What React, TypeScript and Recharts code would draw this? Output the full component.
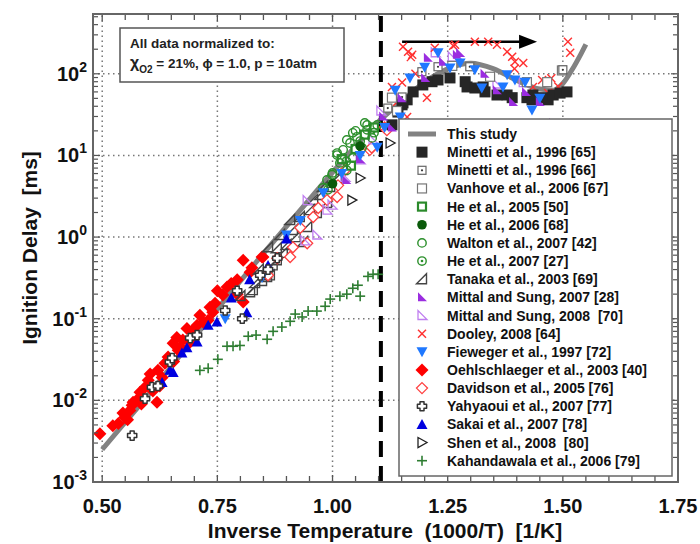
import React from 'react';
import { ComposedChart, Scatter, Line, XAxis, YAxis, ReferenceLine } from 'recharts';

// ---------- data ----------
const thisStudy: [number, number][] = [
  [0.5, 0.0025], [0.55, 0.0054], [0.6, 0.0117], [0.65, 0.026], [0.7, 0.059], [0.75, 0.132],
  [0.8, 0.29], [0.85, 0.63], [0.9, 1.35], [0.95, 2.9], [1.0, 6.2], [1.05, 13], [1.1, 26],
  [1.15, 46], [1.2, 79], [1.25, 115], [1.3, 135], [1.35, 115], [1.4, 83], [1.45, 65],
  [1.48, 63], [1.5, 76], [1.52, 112], [1.54, 178], [1.55, 229],
];
const minetti65: [number, number][] = [
  [1.129, 23.7], [1.142, 34], [1.151, 41.7], [1.153, 44], [1.162, 48], [1.175, 60], [1.196, 73],
  [1.216, 80], [1.229, 84], [1.255, 89], [1.288, 80], [1.292, 69], [1.309, 67], [1.327, 69],
  [1.331, 60], [1.357, 55], [1.379, 55], [1.39, 51], [1.422, 51], [1.433, 48], [1.435, 55],
  [1.457, 51], [1.468, 48], [1.479, 55], [1.494, 58], [1.509, 60],
];
const minetti66: [number, number][] = [[1.12, 38], [1.151, 52], [1.194, 106], [1.229, 122], [1.298, 122], [1.5, 112]];
const vanhove: [number, number][] = [[1.129, 51], [1.14, 35], [1.26, 125], [1.342, 92], [1.422, 79], [1.466, 79], [1.498, 110]];
const he2005: [number, number][] = [[1.02, 9], [1.04, 7.5], [1.05, 12], [1.07, 18], [1.09, 22]];
const he2006: [number, number][] = [[1.0, 4.5], [1.06, 13]];
const walton: [number, number][] = [
  [0.979, 4.0], [0.988, 5.0], [0.999, 5.8], [1.0, 6.1], [1.01, 10.1], [1.01, 10.7], [1.016, 8.1],
  [1.023, 11.7], [1.031, 6.6], [1.031, 15.5], [1.038, 14.2], [1.044, 9.3], [1.044, 18.9], [1.053, 16.9],
  [1.064, 12.4], [1.075, 20.6], [1.075, 23.6], [1.086, 16.4], [1.097, 23.6], [1.05, 20], [1.07, 25],
];
const he2007: [number, number][] = [[0.99, 3.8], [1.03, 8.5], [1.06, 15], [1.09, 19]];
const tanaka: [number, number][] = [
  [0.8, 0.19], [0.821, 0.211], [0.827, 0.224], [0.832, 0.273], [0.84, 0.4], [0.847, 0.29], [0.858, 0.324],
  [0.86, 0.75], [0.864, 0.34], [0.87, 0.45], [0.879, 0.52], [0.879, 0.73], [0.886, 1.06], [0.892, 0.64],
  [0.9, 0.8], [0.908, 1.62], [0.914, 1.22], [0.92, 1.0], [0.929, 1.76], [0.936, 0.87], [0.945, 1.33],
  [0.951, 2.14], [0.958, 2.84], [0.966, 1.97], [0.973, 3.27], [0.979, 4.1], [0.988, 2.61], [0.995, 4.1],
  [1.01, 5.3], [1.023, 6.6],
];
const mittal2007: [number, number][] = [
  [1.03, 5], [1.06, 9], [1.11, 30], [1.129, 22], [1.15, 50], [1.201, 89], [1.207, 157], [1.24, 140],
  [1.27, 171], [1.277, 180], [1.33, 100], [1.357, 63], [1.392, 45], [1.42, 60], [1.45, 45], [1.479, 25],
];
const mittal2008: [number, number][] = [
  [0.94, 0.9], [0.945, 2.8], [0.966, 1.06], [0.988, 2.14], [0.999, 2.46], [1.027, 5.4], [1.06, 8.8],
  [1.088, 15.5], [1.105, 35], [1.223, 181], [1.26, 160], [1.357, 75], [1.414, 78],
];
const dooley: [number, number][] = [
  [1.129, 69], [1.14, 45], [1.151, 78], [1.153, 215], [1.162, 29.5], [1.164, 186], [1.17, 160],
  [1.173, 171], [1.18, 100], [1.205, 51], [1.222, 209], [1.262, 220], [1.266, 227], [1.309, 247],
  [1.338, 247], [1.357, 227], [1.379, 186], [1.39, 162], [1.395, 115], [1.396, 140], [1.414, 136],
  [1.435, 69], [1.455, 84], [1.468, 58], [1.475, 88], [1.49, 70], [1.511, 247], [1.516, 181],
];
const fieweger: [number, number][] = [
  [0.767, 0.1], [0.847, 0.32], [0.9, 1.06], [0.93, 1.6], [0.98, 3.5], [1.02, 6.0], [1.06, 10],
  [1.097, 12.6], [1.113, 22], [1.136, 63], [1.147, 29.5], [1.168, 89], [1.2, 120], [1.229, 181],
  [1.255, 118], [1.277, 136], [1.309, 112], [1.324, 67], [1.37, 69], [1.379, 97], [1.396, 84],
  [1.418, 79], [1.433, 36], [1.45, 50],
];
const oehlschlaeger: [number, number][] = [
  [0.495, 0.0039], [0.523, 0.0049], [0.535, 0.0052], [0.545, 0.007], [0.549, 0.0062], [0.555, 0.0058],
  [0.56, 0.0075], [0.565, 0.0087], [0.567, 0.0095], [0.578, 0.0105], [0.582, 0.0126], [0.585, 0.009],
  [0.593, 0.0145], [0.6, 0.0176], [0.604, 0.021], [0.61, 0.013], [0.619, 0.0095], [0.621, 0.0234],
  [0.625, 0.015], [0.63, 0.019], [0.636, 0.0285], [0.643, 0.034], [0.654, 0.05], [0.655, 0.03],
  [0.662, 0.059], [0.665, 0.041], [0.67, 0.045], [0.675, 0.055], [0.684, 0.076], [0.69, 0.051],
  [0.695, 0.07], [0.706, 0.083], [0.712, 0.11], [0.72, 0.09], [0.73, 0.096], [0.734, 0.138],
  [0.74, 0.12], [0.745, 0.155], [0.75, 0.22], [0.762, 0.195], [0.771, 0.245], [0.78, 0.27],
  [0.793, 0.3], [0.793, 0.2], [0.806, 0.16], [0.806, 0.52], [0.821, 0.37], [0.825, 0.42],
  [0.847, 0.57], [0.849, 0.57],
];
const davidson: [number, number][] = [
  [0.86, 0.34], [0.88, 0.55], [0.908, 0.57], [0.914, 0.75], [0.93, 1.3], [0.945, 0.84], [0.958, 1.76],
  [0.969, 2.27], [0.988, 2.84], [1.01, 3.1], [1.012, 4.3], [1.027, 6.6], [1.081, 11.7], [1.085, 12.5],
  [1.113, 22], [1.118, 20.4],
];
const yahyaoui: [number, number][] = [
  [0.565, 0.0037], [0.593, 0.0105], [0.608, 0.0145], [0.621, 0.015], [0.647, 0.0295], [0.652, 0.033],
  [0.691, 0.058], [0.706, 0.063], [0.767, 0.126], [0.793, 0.22], [0.804, 0.1], [0.843, 0.34],
  [0.86, 0.4], [0.88, 0.55],
];
const sakai: [number, number][] = [
  [0.63, 0.0166], [0.647, 0.0234], [0.654, 0.022], [0.673, 0.038], [0.684, 0.044], [0.706, 0.052],
  [0.73, 0.083], [0.749, 0.091], [0.78, 0.18], [0.814, 0.118], [0.82, 0.3], [0.86, 0.45], [0.9, 0.95],
];
const shen: [number, number][] = [[1.042, 2.84], [1.06, 5.3], [1.125, 14.2]];
const kahandawala: [number, number][] = [
  [0.712, 0.0233], [0.73, 0.0247], [0.751, 0.0318], [0.771, 0.046], [0.784, 0.046], [0.799, 0.047],
  [0.817, 0.061], [0.834, 0.063], [0.858, 0.056], [0.871, 0.07], [0.89, 0.079], [0.908, 0.093],
  [0.919, 0.114], [0.934, 0.105], [0.947, 0.124], [0.966, 0.124], [0.984, 0.142], [0.995, 0.174],
  [1.016, 0.189], [1.031, 0.2], [1.044, 0.236], [1.055, 0.257], [1.06, 0.189], [1.077, 0.33],
  [1.088, 0.35], [1.099, 0.35],
];
const ntcBoundary = 1.105;
const arrowShaft: [number, number][] = [[1.151, 247], [1.42, 247]];
const arrowTip: [number, number][] = [[1.444, 247]];

const xMajor = [0.5, 0.75, 1.0, 1.25, 1.5, 1.75];
const xMajorLabels = ['0.50', '0.75', '1.00', '1.25', '1.50', '1.75'];
const yMajor = [0.001, 0.01, 0.1, 1, 10, 100];
const yMajorExp = ['-3', '-2', '-1', '0', '1', '2'];
const X_DOMAIN: [number, number] = [0.48, 1.75];
const Y_DOMAIN: [number, number] = [0.001, 540];

const xMinor: number[] = [];
for (let i = 0; i <= 25; i++) xMinor.push(Math.round((0.5 + i * 0.05) * 100) / 100);
const xTicks = Array.from(new Set([...xMinor, ...xMajor])).sort((a, b) => a - b);
const yTicks: number[] = [];
yMajor.forEach((d) => {
  for (let k = 1; k <= 9; k++) {
    const v = +(k * d).toPrecision(3);
    if (v <= Y_DOMAIN[1]) yTicks.push(v);
  }
});

// ---------- layout ----------
const W = 700, H = 544;
const PL = 93, PR = 678, PT = 14, PB = 482;
const FONT = '"Liberation Sans", Arial, Helvetica, sans-serif';

const toXY = (a: [number, number][]) => a.map(([x, y]) => ({ x, y }));

// ---------- markers ----------
function Marker({ kind, cx, cy }: { kind: string; cx: number; cy: number }) {
  switch (kind) {
    case 'minetti65':
      return <rect x={cx - 5.5} y={cy - 5.5} width={11} height={11} fill="#262626" />;
    case 'minetti66':
      return (
        <g>
          <rect x={cx - 4} y={cy - 4} width={8} height={8} fill="#fff" stroke="#666" strokeWidth={1.2} />
          <circle cx={cx} cy={cy} r={1.1} fill="#333" />
        </g>
      );
    case 'vanhove':
      return <rect x={cx - 4.5} y={cy - 4.5} width={9} height={9} fill="#fff" stroke="#777" strokeWidth={1.2} />;
    case 'he2005':
      return <rect x={cx - 4} y={cy - 4} width={8} height={8} fill="#fff" stroke="#2b8a2b" strokeWidth={2.2} />;
    case 'he2006':
      return <circle cx={cx} cy={cy} r={4.8} fill="#0a5a0a" />;
    case 'walton':
      return <circle cx={cx} cy={cy} r={4.2} fill="none" stroke="#2b8f2b" strokeWidth={1.4} />;
    case 'he2007':
      return (
        <g>
          <circle cx={cx} cy={cy} r={4.2} fill="none" stroke="#2b8f2b" strokeWidth={1.4} />
          <circle cx={cx} cy={cy} r={1.3} fill="#2b8f2b" />
        </g>
      );
    case 'tanaka':
      return (
        <polygon
          points={`${cx - 5.5},${cy + 4.5} ${cx + 4.5},${cy + 4.5} ${cx + 4.5},${cy - 5.5}`}
          fill="none" stroke="#444" strokeWidth={1.4}
        />
      );
    case 'mittal07':
      return <polygon points={`${cx - 4},${cy - 5} ${cx - 4},${cy + 4} ${cx + 5},${cy + 4}`} fill="#9b2de0" />;
    case 'mittal08':
      return (
        <polygon
          points={`${cx - 4},${cy - 5} ${cx - 4},${cy + 4} ${cx + 5},${cy + 4}`}
          fill="none" stroke="#c07ff0" strokeWidth={1.3}
        />
      );
    case 'dooley':
      return (
        <g stroke="#ff3030" strokeWidth={1.4}>
          <line x1={cx - 4} y1={cy - 4} x2={cx + 4} y2={cy + 4} />
          <line x1={cx - 4} y1={cy + 4} x2={cx + 4} y2={cy - 4} />
        </g>
      );
    case 'fieweger':
      return <polygon points={`${cx - 5.5},${cy - 4.5} ${cx + 5.5},${cy - 4.5} ${cx},${cy + 5.5}`} fill="#1f78ff" />;
    case 'oehl':
      return <polygon points={`${cx},${cy - 6.5} ${cx + 6.5},${cy} ${cx},${cy + 6.5} ${cx - 6.5},${cy}`} fill="#ff0000" />;
    case 'davidson':
      return (
        <polygon
          points={`${cx},${cy - 5.5} ${cx + 5.5},${cy} ${cx},${cy + 5.5} ${cx - 5.5},${cy}`}
          fill="#fff" stroke="#ff4040" strokeWidth={1.3}
        />
      );
    case 'yahyaoui': {
      const a = 2, b = 4.6;
      const pts = [
        [-a, -b], [a, -b], [a, -a], [b, -a], [b, a], [a, a], [a, b], [-a, b], [-a, a], [-b, a], [-b, -a], [-a, -a],
      ].map(([dx, dy]) => `${cx + dx},${cy + dy}`).join(' ');
      return <polygon points={pts} fill="#fff" stroke="#333" strokeWidth={1.5} strokeLinejoin="round" />;
    }
    case 'sakai':
      return <polygon points={`${cx},${cy - 5.5} ${cx + 5.5},${cy + 4.5} ${cx - 5.5},${cy + 4.5}`} fill="#0000e0" />;
    case 'shen':
      return (
        <polygon
          points={`${cx - 4},${cy - 5} ${cx + 5},${cy} ${cx - 4},${cy + 5}`}
          fill="none" stroke="#222" strokeWidth={1.3}
        />
      );
    case 'kahan':
      return (
        <g stroke="#2e7d32" strokeWidth={1.6}>
          <line x1={cx - 5} y1={cy} x2={cx + 5} y2={cy} />
          <line x1={cx} y1={cy - 5} x2={cx} y2={cy + 5} />
        </g>
      );
    default:
      return null;
  }
}

const series: { name: string; kind: string; data: [number, number][] }[] = [
  { name: 'Minetti et al., 1996 [65]', kind: 'minetti65', data: minetti65 },
  { name: 'Minetti et al., 1996 [66]', kind: 'minetti66', data: minetti66 },
  { name: 'Vanhove et al., 2006 [67]', kind: 'vanhove', data: vanhove },
  { name: 'He et al., 2005 [50]', kind: 'he2005', data: he2005 },
  { name: 'He et al., 2006 [68]', kind: 'he2006', data: he2006 },
  { name: 'Walton et al., 2007 [42]', kind: 'walton', data: walton },
  { name: 'He et al., 2007 [27]', kind: 'he2007', data: he2007 },
  { name: 'Tanaka et al., 2003 [69]', kind: 'tanaka', data: tanaka },
  { name: 'Mittal and Sung, 2007 [28]', kind: 'mittal07', data: mittal2007 },
  { name: 'Mittal and Sung, 2008  [70]', kind: 'mittal08', data: mittal2008 },
  { name: 'Dooley, 2008 [64]', kind: 'dooley', data: dooley },
  { name: 'Fieweger et al., 1997 [72]', kind: 'fieweger', data: fieweger },
  { name: 'Oehlschlaeger et al., 2003 [40]', kind: 'oehl', data: oehlschlaeger },
  { name: 'Davidson et al., 2005 [76]', kind: 'davidson', data: davidson },
  { name: 'Yahyaoui et al., 2007 [77]', kind: 'yahyaoui', data: yahyaoui },
  { name: 'Sakai et al., 2007 [78]', kind: 'sakai', data: sakai },
  { name: 'Shen et al., 2008  [80]', kind: 'shen', data: shen },
  { name: 'Kahandawala et al., 2006 [79]', kind: 'kahan', data: kahandawala },
];
// drawing order (first = bottom)
const drawOrder = [
  'oehl', 'kahan', 'tanaka', 'davidson', 'mittal08', 'he2005', 'walton', 'he2007', 'he2006', 'shen',
  'dooley', 'minetti65', 'vanhove', 'minetti66', 'mittal07', 'fieweger', 'sakai', 'yahyaoui',
];

// ---------- ticks ----------
const isXMajor = (v: number) => Math.abs(v * 4 - Math.round(v * 4)) < 1e-6;
const isYMajor = (v: number) => Math.abs(Math.log10(v) - Math.round(Math.log10(v))) < 1e-6;

function XTick(props: any) {
  const { x, payload } = props;
  const v = payload.value as number;
  const major = isXMajor(v);
  const idx = xMajor.findIndex((m) => Math.abs(m - v) < 1e-6);
  const len = major ? 7 : 6;
  return (
    <g>
      <line x1={x} x2={x} y1={PB} y2={PB - len} stroke="#555" strokeWidth={1.3} />
      <line x1={x} x2={x} y1={PT} y2={PT + len} stroke="#555" strokeWidth={1.3} />
      {major && idx >= 0 && (
        <text x={x} y={PB + 31} textAnchor="middle" fontFamily={FONT} fontWeight="bold" fontSize={20} fill="#111">
          {xMajorLabels[idx]}
        </text>
      )}
    </g>
  );
}

function YTick(props: any) {
  const { y, payload } = props;
  const v = payload.value as number;
  const major = isYMajor(v);
  const idx = yMajor.findIndex((m) => Math.abs(Math.log10(m) - Math.log10(v)) < 1e-6);
  const len = major ? 7 : 5;
  return (
    <g>
      <line x1={PL} x2={PL + len} y1={y} y2={y} stroke="#555" strokeWidth={1.2} />
      <line x1={PR} x2={PR - len} y1={y} y2={y} stroke="#555" strokeWidth={1.2} />
      {major && idx >= 0 && (
        <text x={PL - 6} y={y + 7} textAnchor="end" fontFamily={FONT} fontWeight="bold" fontSize={20} fill="#111">
          <tspan>10</tspan>
          <tspan dy={-9} fontSize={14}>{yMajorExp[idx]}</tspan>
        </text>
      )}
    </g>
  );
}

// ---------- legend ----------
const LEG_X = 399, LEG_Y = 119, LEG_W = 273, LEG_H = 357, LEG_ROW0 = 134, LEG_STEP = 18.15;

export default function App() {
  const ordered = drawOrder.map((k) => series.find((s) => s.kind === k)!);
  return (
    <div style={{ position: 'absolute', left: 0, top: 0, width: W, height: H, background: '#fff' }}>
      <ComposedChart
        width={W}
        height={H}
        margin={{ top: PT, right: W - PR, bottom: 0, left: 0 }}
      >
        <XAxis
          dataKey="x"
          type="number"
          domain={X_DOMAIN}
          allowDataOverflow
          ticks={xTicks}
          interval={0}
          tick={(p: any) => <XTick {...p} />}
          tickLine={false}
          axisLine={false}
          height={H - PB}
        />
        <YAxis
          dataKey="y"
          type="number"
          scale="log"
          domain={Y_DOMAIN}
          allowDataOverflow
          ticks={yTicks}
          interval={0}
          tick={(p: any) => <YTick {...p} />}
          tickLine={false}
          axisLine={false}
          width={PL}
        />
        {xMajor.slice(0, 5).map((v) => (
          <ReferenceLine key={'gx' + v} x={v} stroke="#777" strokeWidth={1.5} strokeDasharray="1.5 3.5" />
        ))}
        {yMajor.slice(1).map((v) => (
          <ReferenceLine key={'gy' + v} y={v} stroke="#777" strokeWidth={1.5} strokeDasharray="1.5 3.5" />
        ))}
        {ordered.slice(0, 1).map((s) => (
          <Scatter
            key={s.kind}
            name={s.name}
            data={toXY(s.data)}
            isAnimationActive={false}
            shape={(p: any) => <Marker kind={s.kind} cx={p.cx} cy={p.cy} />}
          />
        ))}
        <Line
          data={toXY(thisStudy)}
          dataKey="y"
          type="monotone"
          stroke="#828282"
          strokeWidth={5}
          dot={false}
          activeDot={false}
          isAnimationActive={false}
        />
        {ordered.slice(1).map((s) => (
          <Scatter
            key={s.kind}
            name={s.name}
            data={toXY(s.data)}
            isAnimationActive={false}
            shape={(p: any) => <Marker kind={s.kind} cx={p.cx} cy={p.cy} />}
          />
        ))}
        <ReferenceLine x={ntcBoundary} stroke="#000" strokeWidth={4} strokeDasharray="16 9" />
        <Line
          data={toXY(arrowShaft)}
          dataKey="y"
          type="linear"
          stroke="#000"
          strokeWidth={2.5}
          dot={false}
          activeDot={false}
          isAnimationActive={false}
        />
        <Scatter
          data={toXY(arrowTip)}
          isAnimationActive={false}
          shape={(p: any) => (
            <polygon points={`${p.cx},${p.cy} ${p.cx - 18},${p.cy - 7} ${p.cx - 18},${p.cy + 7}`} fill="#000" />
          )}
        />
      </ComposedChart>
      <svg
        width={W}
        height={H}
        style={{ position: 'absolute', left: 0, top: 0, pointerEvents: 'none' }}
      >
        <rect x={PL} y={PT} width={PR - PL} height={PB - PT} fill="none" stroke="#666" strokeWidth={2} />
        {/* note box */}
        <rect x={120} y={28} width={224} height={54} fill="#fff" stroke="#555" strokeWidth={1.5} />
        <text x={130} y={48} fontFamily={FONT} fontWeight="bold" fontSize={13.5} fill="#222">
          All data normalized to:
        </text>
        <text x={130} y={68} fontFamily={FONT} fontWeight="bold" fontSize={13.5} fill="#222" style={{ whiteSpace: 'pre' }}>
          <tspan fontSize={16}>χ</tspan>
          <tspan dy={5} fontSize={10}>O2</tspan>
          <tspan dy={-5}> = 21%, ϕ = 1.0, p = 10atm</tspan>
        </text>
        {/* legend */}
        <rect x={LEG_X} y={LEG_Y} width={LEG_W} height={LEG_H} fill="#fff" stroke="#666" strokeWidth={1.5} />
        <line x1={408} x2={436} y1={LEG_ROW0} y2={LEG_ROW0} stroke="#828282" strokeWidth={5} />
        <text x={447} y={LEG_ROW0 + 5} fontFamily={FONT} fontWeight="bold" fontSize={14} fill="#111">
          This study
        </text>
        {series.map((s, i) => {
          const cy = LEG_ROW0 + (i + 1) * LEG_STEP;
          return (
            <g key={'leg' + s.kind}>
              <Marker kind={s.kind} cx={422} cy={cy} />
              <text x={447} y={cy + 5} fontFamily={FONT} fontWeight="bold" fontSize={14} fill="#111" style={{ whiteSpace: 'pre' }}>
                {s.name}
              </text>
            </g>
          );
        })}
        {/* axis titles */}
        <text
          x={385}
          y={538}
          textAnchor="middle"
          fontFamily={FONT}
          fontWeight="bold"
          fontSize={21}
          fill="#111"
          style={{ whiteSpace: 'pre' }}
        >
          Inverse Temperature  (1000/T)  [1/K]
        </text>
        <text
          transform="translate(37,248) rotate(-90)"
          textAnchor="middle"
          fontFamily={FONT}
          fontWeight="bold"
          fontSize={21}
          fill="#111"
          style={{ whiteSpace: 'pre' }}
        >
          Ignition Delay  [ms]
        </text>
      </svg>
    </div>
  );
}
